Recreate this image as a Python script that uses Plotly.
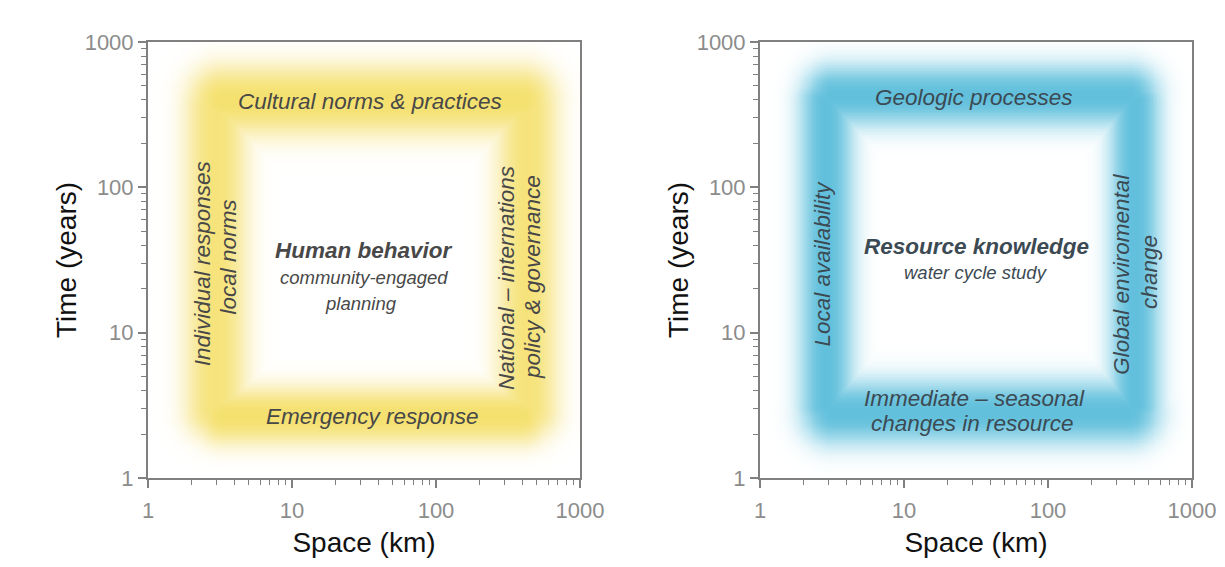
import numpy as np
import plotly.graph_objects as go

# ---------------- data ----------------
tick_vals = [1, 10, 100, 1000]
tick_text = ["1", "10", "100", "1000"]
minor_vals = [m * 10 ** e for e in range(3) for m in range(2, 10)]

# glow bands: centre-line segment (x in km, y in years) and glow half-width (decades)
human_band_names = ["Cultural norms", "Emergency", "Individual", "National"]
human_band_x0 = [3.3, 3.3, 2.95, 430]
human_band_x1 = [390, 390, 2.95, 430]
human_band_y0 = [400, 2.7, 3.0, 3.0]
human_band_y1 = [400, 2.7, 360, 360]
human_band_width = [0.25, 0.205, 0.22, 0.22]
human_band_amp = [1.0, 1.0, 0.92, 0.92]

resource_band_names = ["Geologic", "Immediate", "Local", "Global"]
resource_band_x0 = [3.2, 3.2, 2.87, 400]
resource_band_x1 = [360, 360, 2.87, 400]
resource_band_y0 = [432, 2.85, 3.2, 3.2]
resource_band_y1 = [432, 2.85, 390, 390]
resource_band_width = [0.22, 0.23, 0.195, 0.185]
resource_band_amp = [1.0, 1.0, 1.0, 1.0]

# labels: text, x (km), y (years), angle, style
human_labels = ["Cultural norms & practices", "Emergency response",
                "Individual responses", "local norms",
                "National – internations", "policy & governance",
                "Human behavior", "community-engaged", "planning"]
human_label_x = [34.8, 36.5, 2.37, 3.6, 311, 472, 31.6, 31.6, 30.1]
human_label_y = [387, 2.63, 30, 33, 23.8, 24.2, 37, 23.8, 16]
human_label_angle = [0, 0, -90, -90, -90, -90, 0, 0, 0]
human_label_kind = ["band", "band", "band", "band", "band", "band", "title", "sub", "sub"]

resource_labels = ["Geologic processes", "Immediate – seasonal", "changes in resource",
                   "Local availability", "Global enviromental", "change",
                   "Resource knowledge", "water cycle study"]
resource_label_x = [30.6, 31.1, 29.7, 2.7, 326, 511, 32.1, 31.6]
resource_label_y = [412, 3.55, 2.39, 30, 25.4, 26.2, 38.9, 25.8]
resource_label_angle = [0, 0, 0, -90, -90, -90, 0, 0]
resource_label_kind = ["band", "band", "band", "band", "band", "band", "title", "sub"]

x_title = "Space (km)"
y_title = "Time (years)"

# ---------------- glow field ----------------
N = 300
lg = np.linspace(0, 3, N)
LX, LY = np.meshgrid(lg, lg)


def seg_dist(ax, ay, bx, by):
    dx, dy = bx - ax, by - ay
    L2 = dx * dx + dy * dy
    if L2 == 0:
        t = np.zeros_like(LX)
    else:
        t = np.clip(((LX - ax) * dx + (LY - ay) * dy) / L2, 0, 1)
    px, py = ax + t * dx, ay + t * dy
    return np.hypot(LX - px, LY - py)


def glow(x0, x1, y0, y1, width, amp):
    f = np.zeros_like(LX)
    for a, b, c, d, r, m in zip(x0, x1, y0, y1, width, amp):
        la, lb, lc, ld = np.log10([a, b, c, d])
        dist = seg_dist(la, lc, lb, ld)
        f = np.maximum(f, m * np.exp(-(dist / r) ** 2.5))
    return f


z_h = glow(human_band_x0, human_band_x1, human_band_y0, human_band_y1,
           human_band_width, human_band_amp)
z_r = glow(resource_band_x0, resource_band_x1, resource_band_y0, resource_band_y1,
           resource_band_width, resource_band_amp)
xs = 10 ** lg

fig = go.Figure()
fig.add_trace(go.Heatmap(x=xs, y=xs, z=z_h, zmin=0, zmax=1, zsmooth="best",
                         colorscale=[[0, "#ffffff"], [0.5, "#faefb8"], [1, "#f5e170"]],
                         showscale=False, hoverinfo="skip", xaxis="x", yaxis="y"))
fig.add_trace(go.Heatmap(x=xs, y=xs, z=z_r, zmin=0, zmax=1, zsmooth="best",
                         colorscale=[[0, "#ffffff"], [0.5, "#b2e1ef"], [1, "#62c0dc"]],
                         showscale=False, hoverinfo="skip", xaxis="x2", yaxis="y2"))

FONT = "Liberation Sans, Arial, sans-serif"
OFF = 8  # page body margin
W, H = 1225 - 2 * OFF, 567 - 2 * OFF
xd1 = [(148 - OFF) / W, (580 - OFF) / W]
xd2 = [(760 - OFF) / W, (1192 - OFF) / W]
yd = [(H - (478 - OFF)) / H, (H - (42 - OFF)) / H]

axis_common = dict(
    type="log", range=[0, 3], showline=True, linecolor="#808080", linewidth=2,
    mirror=True, ticks="outside", ticklen=8, tickwidth=1.5, tickcolor="#808080",
    showgrid=False, zeroline=False, tickmode="array", tickvals=tick_vals,
    ticktext=tick_text, tickfont=dict(family=FONT, size=22, color="#8c8c8c"),
    minor=dict(ticks="outside", ticklen=5, tickwidth=1.2, tickcolor="#808080",
               tickmode="array", tickvals=minor_vals, showgrid=False),
    fixedrange=True, automargin=False,
)

xt = dict(text=x_title, font=dict(family=FONT, size=28, color="#111111"), standoff=10)
yt = dict(text=y_title, font=dict(family=FONT, size=28, color="#111111"), standoff=0)

fig.update_layout(
    width=W, height=H, margin=dict(l=0, r=0, t=0, b=0, autoexpand=False),
    paper_bgcolor="white", plot_bgcolor="white", showlegend=False,
    xaxis=dict(axis_common, domain=xd1, anchor="y", title=xt, ticklabelstandoff=4),
    yaxis=dict(axis_common, domain=yd, anchor="x", title=yt, ticklabelstandoff=0),
    xaxis2=dict(axis_common, domain=xd2, anchor="y2", title=xt, ticklabelstandoff=4),
    yaxis2=dict(axis_common, domain=yd, anchor="x2", title=yt, ticklabelstandoff=0),
)


def add_labels(texts, xv, yv, ang, kind, xref, yref, color):
    for t, x, y, a, k in zip(texts, xv, yv, ang, kind):
        if k == "title":
            f = dict(family=FONT, size=22.5, color=color, style="italic", weight="bold")
        elif k == "sub":
            f = dict(family=FONT, size=18.5, color=color, style="italic")
        else:
            f = dict(family=FONT, size=22.5, color=color, style="italic")
        fig.add_annotation(x=np.log10(x), y=np.log10(y), xref=xref, yref=yref, text=t,
                           textangle=a, showarrow=False, font=f,
                           xanchor="center", yanchor="middle")


add_labels(human_labels, human_label_x, human_label_y, human_label_angle,
           human_label_kind, "x", "y", "#484848")
add_labels(resource_labels, resource_label_x, resource_label_y, resource_label_angle,
           resource_label_kind, "x2", "y2", "#3c4a53")

fig.write_html("out.html")
